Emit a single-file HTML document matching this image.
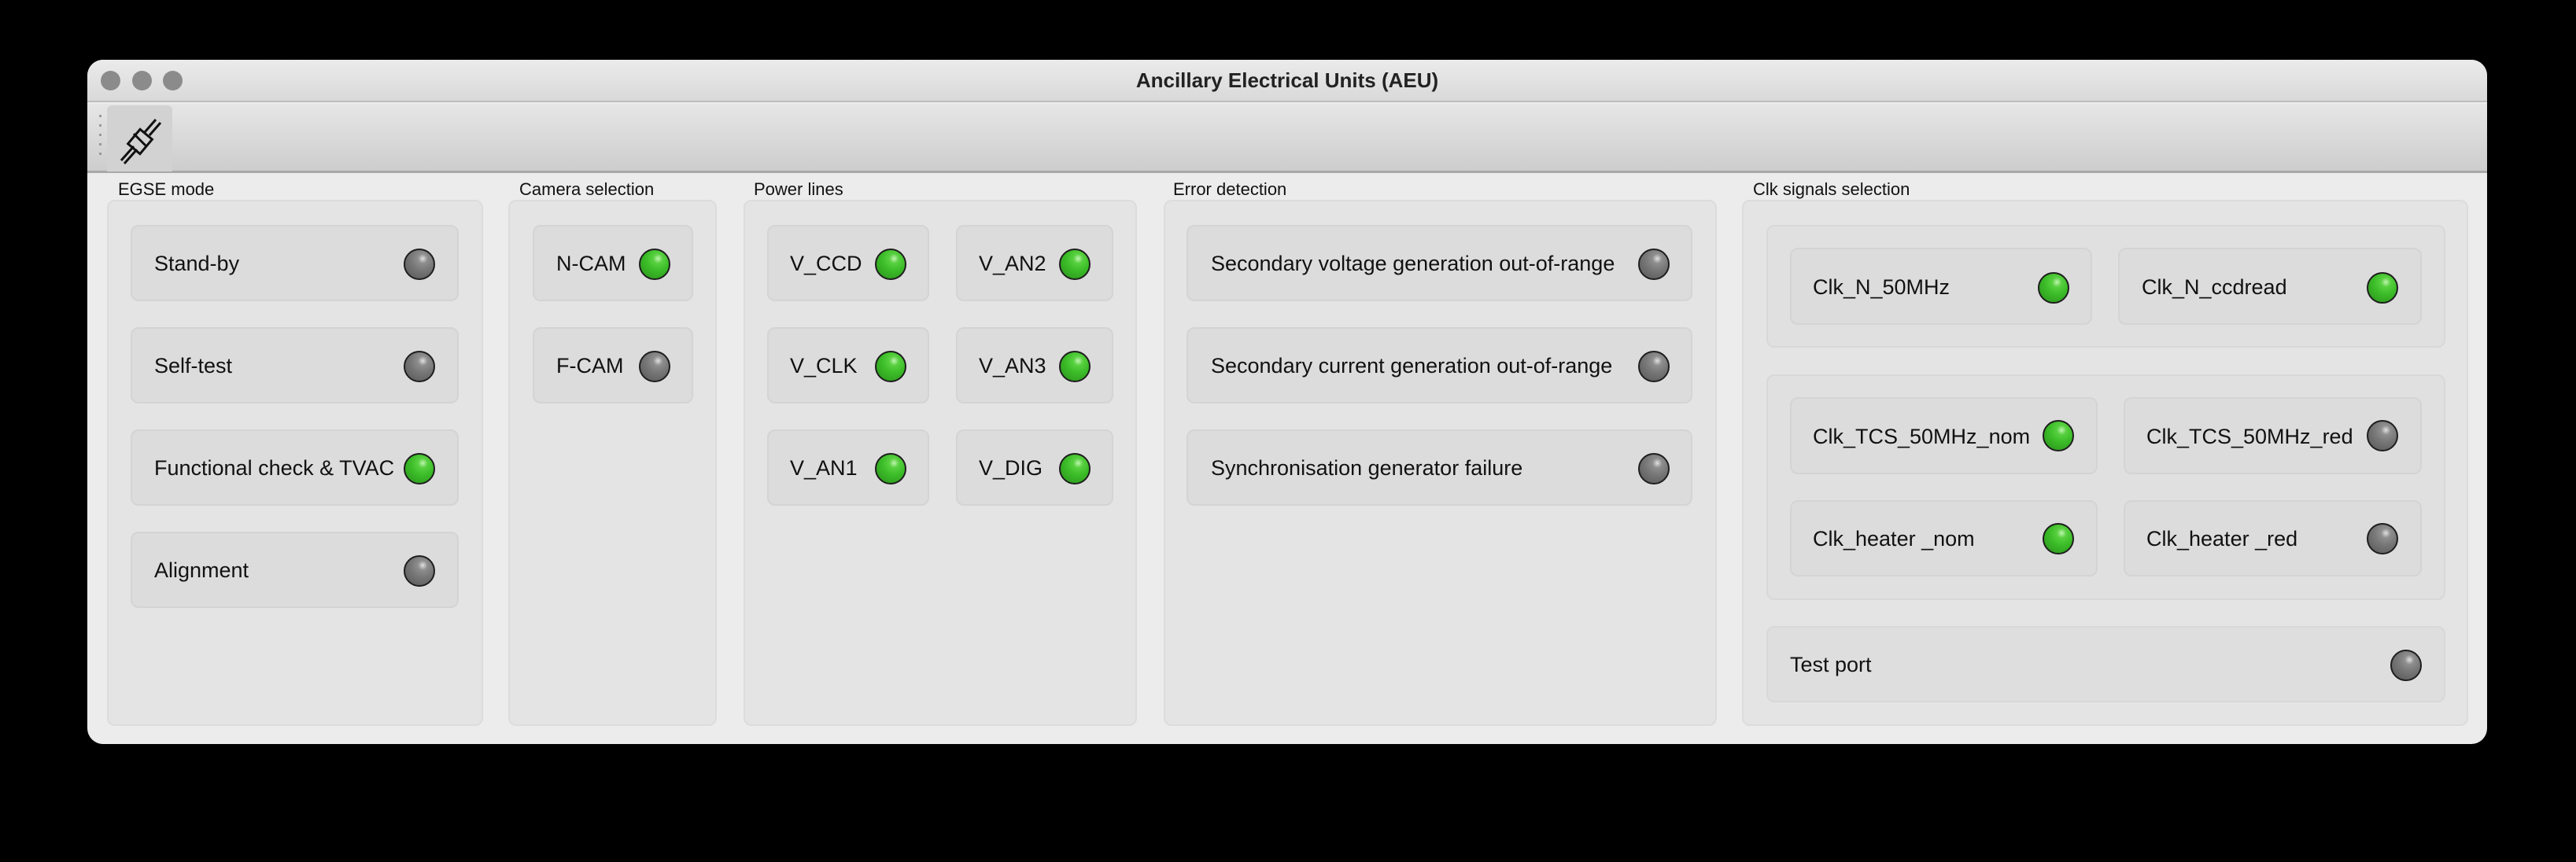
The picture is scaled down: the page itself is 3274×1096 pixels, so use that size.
<!DOCTYPE html>
<html><head><meta charset="utf-8"><style>
*{box-sizing:border-box;margin:0;padding:0}
body{width:3274px;height:1096px;background:#000;position:relative;overflow:hidden;font-family:"Liberation Sans",sans-serif;color:#111}
.win{position:absolute;left:111px;top:76px;width:3050px;height:870px;background:#ececec;border-radius:20px;overflow:hidden}
.title{position:absolute;left:0;top:0;width:100%;height:54px;background:linear-gradient(#ebebeb,#d9d9d9);border-bottom:2px solid #bdbdbd;text-align:center;font-weight:bold;font-size:26px;line-height:52px;color:#222}
.tl{position:absolute;top:14px;width:25px;height:25px;border-radius:50%;background:#8b8b8b}
.tb{position:absolute;left:0;top:56px;width:100%;height:88px;background:linear-gradient(#e6e6e6,#cdcdcd);border-bottom:3px solid #a8a8a8}
.btn{position:absolute;left:25px;top:2px;width:83px;height:84px;background:#d2d2d2;border-radius:6px 6px 0 0}
.a{position:absolute}
.lbl{position:absolute;font-size:22px;color:#111}
.grp{position:absolute;background:#e4e4e4;border:2px solid #dcdcdc;border-radius:10px}
.sub{position:absolute;background:#e0e0e0;border:2px solid #d8d8d8;border-radius:10px}
.it{position:absolute;background:#dcdcdc;border:2px solid #d4d4d4;border-radius:10px;height:97px}
.tx{position:absolute;font-size:27px;line-height:30px;white-space:nowrap}
.led{position:absolute;width:40px;height:40px;border-radius:50%;border:2.5px solid #1e1e1e}
.g{background:radial-gradient(circle at 62% 30%,#bff5b0 0,#58d040 18%,#3cbd28 45%,#2a8f1c 100%)}
.o{background:radial-gradient(circle at 62% 30%,#e0e0e0 0,#8e8e8e 18%,#777 45%,#555 100%)}
</style></head><body>
<div class="win">
 <div class="title">Ancillary Electrical Units (AEU)
  <div class="tl" style="left:17px"></div><div class="tl" style="left:57px"></div><div class="tl" style="left:96px"></div>
 </div>
 <div class="tb">
  <div style="position:absolute;left:15px;top:14px;width:3px;height:60px;background:repeating-linear-gradient(#999 0 3px,transparent 3px 12px)"></div>
  <div class="btn"><svg width="83" height="84" viewBox="0 0 83 84"><g fill="none" stroke="#111" stroke-width="3"><path d="M18 70 L34 52 M22 74 L38 56"/><rect x="32" y="34" width="20" height="24" transform="rotate(40 42 46)"/><path d="M34 36 L50 52" /><path d="M48 34 L62 18 M54 38 L68 22"/></g></svg></div>
 </div>
</div>
<!-- EGSE -->
<div class="lbl" style="left:150px;top:228px">EGSE mode</div>
<div class="grp" style="left:136px;top:254px;width:478px;height:669px"></div>
<div class="it" style="left:166px;top:286px;width:417px"></div><div class="tx" style="left:196px;top:320px">Stand-by</div><div class="led o" style="left:513px;top:316px"></div>
<div class="it" style="left:166px;top:416px;width:417px"></div><div class="tx" style="left:196px;top:450px">Self-test</div><div class="led o" style="left:513px;top:446px"></div>
<div class="it" style="left:166px;top:546px;width:417px"></div><div class="tx" style="left:196px;top:580px">Functional check &amp; TVAC</div><div class="led g" style="left:513px;top:576px"></div>
<div class="it" style="left:166px;top:676px;width:417px"></div><div class="tx" style="left:196px;top:710px">Alignment</div><div class="led o" style="left:513px;top:706px"></div>
<!-- Camera -->
<div class="lbl" style="left:660px;top:228px">Camera selection</div>
<div class="grp" style="left:646px;top:254px;width:265px;height:669px"></div>
<div class="it" style="left:677px;top:286px;width:204px"></div><div class="tx" style="left:707px;top:320px">N-CAM</div><div class="led g" style="left:812px;top:316px"></div>
<div class="it" style="left:677px;top:416px;width:204px"></div><div class="tx" style="left:707px;top:450px">F-CAM</div><div class="led o" style="left:812px;top:446px"></div>
<!-- Power -->
<div class="lbl" style="left:958px;top:228px">Power lines</div>
<div class="grp" style="left:945px;top:254px;width:500px;height:669px"></div>
<div class="it" style="left:975px;top:286px;width:206px"></div><div class="tx" style="left:1004px;top:320px">V_CCD</div><div class="led g" style="left:1112px;top:316px"></div>
<div class="it" style="left:1215px;top:286px;width:200px"></div><div class="tx" style="left:1244px;top:320px">V_AN2</div><div class="led g" style="left:1346px;top:316px"></div>
<div class="it" style="left:975px;top:416px;width:206px"></div><div class="tx" style="left:1004px;top:450px">V_CLK</div><div class="led g" style="left:1112px;top:446px"></div>
<div class="it" style="left:1215px;top:416px;width:200px"></div><div class="tx" style="left:1244px;top:450px">V_AN3</div><div class="led g" style="left:1346px;top:446px"></div>
<div class="it" style="left:975px;top:546px;width:206px"></div><div class="tx" style="left:1004px;top:580px">V_AN1</div><div class="led g" style="left:1112px;top:576px"></div>
<div class="it" style="left:1215px;top:546px;width:200px"></div><div class="tx" style="left:1244px;top:580px">V_DIG</div><div class="led g" style="left:1346px;top:576px"></div>
<!-- Error -->
<div class="lbl" style="left:1491px;top:228px">Error detection</div>
<div class="grp" style="left:1479px;top:254px;width:703px;height:669px"></div>
<div class="it" style="left:1508px;top:286px;width:643px"></div><div class="tx" style="left:1539px;top:320px">Secondary voltage generation out-of-range</div><div class="led o" style="left:2082px;top:316px"></div>
<div class="it" style="left:1508px;top:416px;width:643px"></div><div class="tx" style="left:1539px;top:450px">Secondary current generation out-of-range</div><div class="led o" style="left:2082px;top:446px"></div>
<div class="it" style="left:1508px;top:546px;width:643px"></div><div class="tx" style="left:1539px;top:580px">Synchronisation generator failure</div><div class="led o" style="left:2082px;top:576px"></div>
<!-- Clk -->
<div class="lbl" style="left:2228px;top:228px">Clk signals selection</div>
<div class="grp" style="left:2214px;top:254px;width:923px;height:669px"></div>
<div class="sub" style="left:2245px;top:286px;width:863px;height:156px"></div>
<div class="it" style="left:2275px;top:315px;width:384px;height:98px"></div><div class="tx" style="left:2304px;top:350px">Clk_N_50MHz</div><div class="led g" style="left:2590px;top:346px"></div>
<div class="it" style="left:2692px;top:315px;width:386px;height:98px"></div><div class="tx" style="left:2722px;top:350px">Clk_N_ccdread</div><div class="led g" style="left:3008px;top:346px"></div>
<div class="sub" style="left:2245px;top:476px;width:863px;height:287px"></div>
<div class="it" style="left:2275px;top:505px;width:391px;height:98px"></div><div class="tx" style="left:2304px;top:540px">Clk_TCS_50MHz_nom</div><div class="led g" style="left:2596px;top:534px"></div>
<div class="it" style="left:2699px;top:505px;width:379px;height:98px"></div><div class="tx" style="left:2728px;top:540px">Clk_TCS_50MHz_red</div><div class="led o" style="left:3008px;top:534px"></div>
<div class="it" style="left:2275px;top:636px;width:391px;height:97px"></div><div class="tx" style="left:2304px;top:670px">Clk_heater _nom</div><div class="led g" style="left:2596px;top:665px"></div>
<div class="it" style="left:2699px;top:636px;width:379px;height:97px"></div><div class="tx" style="left:2728px;top:670px">Clk_heater _red</div><div class="led o" style="left:3008px;top:665px"></div>
<div class="sub" style="left:2245px;top:796px;width:863px;height:97px;background:#dedede"></div><div class="tx" style="left:2275px;top:830px">Test port</div><div class="led o" style="left:3038px;top:826px"></div>
</body></html>
